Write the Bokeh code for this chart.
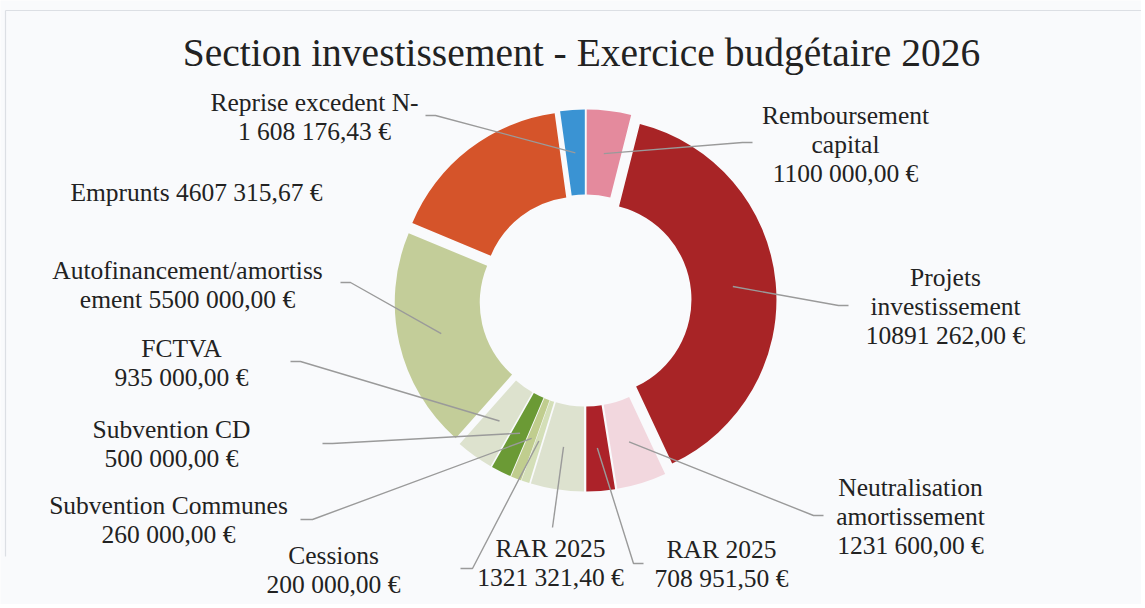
import math
from bokeh.plotting import figure
from bokeh.models import Range1d
from bokeh.core.properties import value
from bokeh.embed import file_html
from bokeh.resources import INLINE

# ---------------- data ----------------
title = "Section investissement - Exercice budgétaire 2026"
categories = ["Remboursement capital", "Projets investissement", "Neutralisation amortissement",
              "RAR 2025", "RAR 2025", "Cessions", "Subvention Communes", "Subvention CD",
              "FCTVA", "Autofinancement/amortissement", "Emprunts", "Reprise excedent N-1"]
amounts = [1100000.00, 10891262.00, 1231600.00, 708951.50, 1321321.40, 200000.00,
           260000.00, 500000.00, 935000.00, 5500000.00, 4607315.67, 608176.43]
label_texts = ["Remboursement\ncapital\n1100 000,00 €",
               "Projets\ninvestissement\n10891 262,00 €",
               "Neutralisation\namortissement\n1231 600,00 €",
               "RAR 2025\n708 951,50 €",
               "RAR 2025\n1321 321,40 €",
               "Cessions\n200 000,00 €",
               "Subvention Communes\n260 000,00 €",
               "Subvention CD\n500 000,00 €",
               "FCTVA\n935 000,00 €",
               "Autofinancement/amortiss\nement 5500 000,00 €",
               "Emprunts 4607 315,67 €",
               "Reprise excedent N-\n1 608 176,43 €"]
colors = ["#E48A9D", "#A82426", "#F2D7DE", "#AC2229", "#DDE2CF", "#D4DFB8",
          "#C0CD8E", "#6B9A35", "#DDE2CE", "#C3CD99", "#D5542A", "#3A93D3"]

# ---------------- layout (page pixel coordinates) ----------------
W, H = 1141, 604
PAGE_H = 608
CX, CY = 585, 300          # donut centre (page coords)
R_OUT, R_IN, EXPLODE = 181, 96, 10
LEADER_R = 148
label_pos = [(845, 143.5), (945, 305.5), (910, 516), (721, 563), (550, 562.5), (333, 569.5),
             (168, 519.5), (171, 443.5), (181, 362), (187, 284.5), (196, 192), (314, 116.5)]
anchors = [(752, 142, -10), (848, 305, -10), (823, 515, -10), (643, 563, -10), (552, 527, 0),
           (460, 568, 12), (300, 519, 12), (322, 443, 10), (290, 361, 10), (340, 282, 10),
           None, (425, 115, 10)]

def Y(py):
    return PAGE_H - py

p = figure(width=W, height=H, output_backend="svg", toolbar_location=None,
           x_range=Range1d(0, W), y_range=Range1d(PAGE_H - H, PAGE_H),
           x_axis_type=None, y_axis_type=None, min_border=0)
p.grid.visible = False
p.outline_line_color = None
p.background_fill_color = "#F9FAFC"
p.border_fill_color = "#F9FAFC"

# faint frame of the scanned chart area (top and left edges)
p.multi_line(xs=[[5, W], [5, 5]], ys=[[Y(10), Y(10)], [Y(10), Y(556)]],
             line_color="#DCDFE4", line_width=1.2)

total = sum(amounts)
cum = 0.0
xs, ys, starts, ends, mids = [], [], [], [], []
for a in amounts:
    a0 = cum / total * 2 * math.pi
    cum += a
    a1 = cum / total * 2 * math.pi
    mid = (a0 + a1) / 2
    mids.append(mid)
    xs.append(CX + EXPLODE * math.sin(mid))
    ys.append(Y(CY) + EXPLODE * math.cos(mid))
    starts.append(math.pi / 2 - a0)
    ends.append(math.pi / 2 - a1)

p.annular_wedge(x=xs, y=ys, inner_radius=R_IN, outer_radius=R_OUT,
                start_angle=starts, end_angle=ends, direction="clock",
                fill_color=colors, line_color=None)

# leader lines
lx, ly = [], []
for mid, anc in zip(mids, anchors):
    if anc is None:
        continue
    ax, ay, stub = anc
    ex = CX + LEADER_R * math.sin(mid)
    ey = Y(CY) + LEADER_R * math.cos(mid)
    if stub:
        lx.append([ax, ax + stub, ex])
        ly.append([Y(ay), Y(ay), ey])
    else:
        lx.append([ax, ex])
        ly.append([Y(ay), ey])
p.multi_line(xs=lx, ys=ly, line_color="#9A9A9A", line_width=1.4)

# labels
p.text(x=[q[0] for q in label_pos], y=[Y(q[1]) for q in label_pos], text=label_texts,
       text_align="center", text_baseline="middle", text_font=value("Liberation Serif"),
       text_font_size="25.5px", text_color="#222222", text_line_height=1.0)

# title
p.text(x=[581], y=[Y(52)], text=[title], text_align="center", text_baseline="middle",
       text_font=value("Liberation Serif"), text_font_size="39.5px", text_color="#222222")

open("out.html", "w").write(file_html(p, INLINE))
